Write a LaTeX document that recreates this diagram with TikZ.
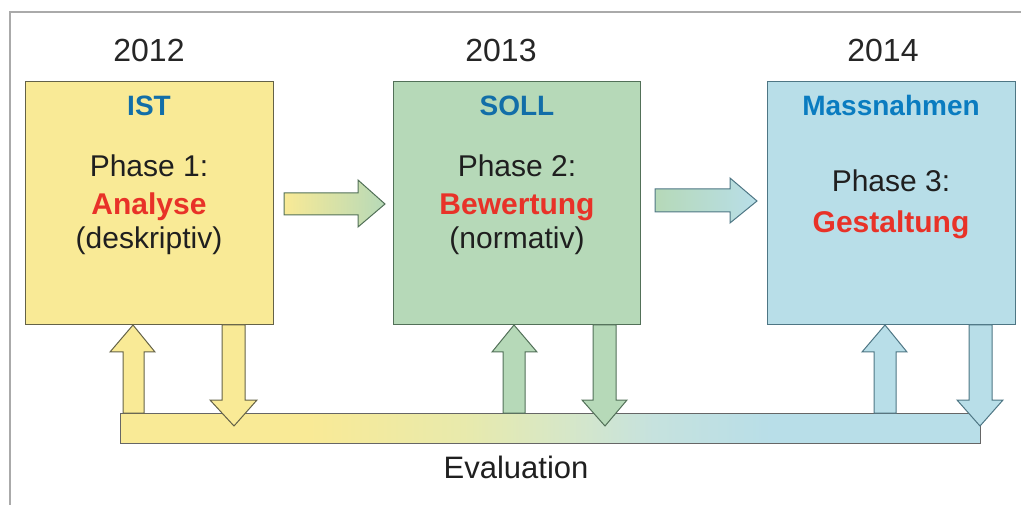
\documentclass[tikz,border=0pt]{standalone}
\usepackage{fontspec}
\setmainfont{Liberation Sans}
\definecolor{yel}{RGB}{249,234,150}
\definecolor{grn}{RGB}{182,217,184}
\definecolor{blu}{RGB}{184,222,232}
\definecolor{midA}{RGB}{232,234,172}
\definecolor{midB}{RGB}{214,231,200}
\definecolor{midC}{RGB}{198,226,222}
\definecolor{yelD}{RGB}{100,98,72}
\definecolor{grnD}{RGB}{82,112,88}
\definecolor{bluD}{RGB}{78,118,132}
\definecolor{hdblue}{RGB}{18,110,168}
\definecolor{hdblue2}{RGB}{10,124,192}
\definecolor{phred}{RGB}{232,50,40}
\definecolor{frame}{RGB}{170,170,170}
\pgfdeclarehorizontalshading{evalbar}{100bp}{color(0bp)=(yel); color(25bp)=(yel); color(36bp)=(yel); color(45bp)=(midA); color(51bp)=(midB); color(56bp)=(midC); color(63bp)=(blu); color(75bp)=(blu); color(100bp)=(blu)}
\begin{document}
\begin{tikzpicture}[x=1pt,y=-1pt,
  phasebox/.style={rectangle, minimum width=248pt, minimum height=243pt, line width=1pt, inner sep=0pt},
  yeartxt/.style={anchor=base, font=\fontsize{32}{32}\selectfont, text=black!85},
  headtxt/.style={anchor=base, font=\fontsize{28}{28}\selectfont\bfseries},
  phtxt/.style={anchor=base, font=\fontsize{30}{30}\selectfont, text=black!88},
  redtxt/.style={anchor=base, font=\fontsize{30}{30}\selectfont\bfseries, text=phred},
  fat/.style={line width=1pt, line join=miter}
]
\useasboundingbox (0,0) rectangle (1021,505);
% frame
\draw[frame, line width=1.5pt] (10,505) -- (10,12) -- (1021,12);

% boxes
\node[phasebox, fill=yel, draw=yelD] (b1) at (149,203.5) {};
\node[phasebox, minimum width=247pt, fill=grn, draw=grnD] (b2) at (516.5,203.5) {};
\node[phasebox, fill=blu, draw=bluD] (b3) at (891,203.5) {};

% years
\node[yeartxt] (y1) at (149,62) {2012};
\node[yeartxt] (y2) at (501,62) {2013};
\node[yeartxt] (y3) at (883,62) {2014};

% box texts
\node[headtxt, text=hdblue] (h1) at (149,116) {IST};
\node[phtxt] (p1) at (149,177) {Phase 1:};
\node[redtxt] (r1) at (149,215) {Analyse};
\node[phtxt] (d1) at (149,249) {(deskriptiv)};

\node[headtxt, text=hdblue] (h2) at (517,116) {SOLL};
\node[phtxt] (p2) at (517,177) {Phase 2:};
\node[redtxt] (r2) at (517,215) {Bewertung};
\node[phtxt] (d2) at (517,249) {(normativ)};

\node[headtxt, text=hdblue2] (h3) at (891,116) {Massnahmen};
\node[phtxt] (p3) at (891,192) {Phase 3:};
\node[redtxt] (r3) at (891,233) {Gestaltung};

% horizontal arrows
\shade[fat, draw=grnD, left color=yel, right color=grn]
  (284,193) -- (358,193) -- (358,180) -- (385,204) -- (358,227) -- (358,215) -- (284,215) -- cycle;
\shade[fat, draw=bluD, left color=grn, right color=blu]
  (655,189) -- (730,189) -- (730,178) -- (757,201) -- (730,223) -- (730,212) -- (655,212) -- cycle;

% evaluation bar
\shade[fat, draw=black!60, shading=evalbar]
  (120,413) rectangle (980,443);
\node[anchor=base, font=\fontsize{31}{31}\selectfont, text=black!88] (ev) at (516,478) {Evaluation};

% up arrows (bar -> box)
\filldraw[fat, fill=yel, draw=yelD]
  (123,413) -- (123,352) -- (110,352) -- (133,325) -- (155,352) -- (144,352) -- (144,413) -- cycle;
\filldraw[fat, fill=grn, draw=grnD]
  (503,413) -- (503,352) -- (492,352) -- (514,325) -- (537,352) -- (525,352) -- (525,413) -- cycle;
\filldraw[fat, fill=blu, draw=bluD]
  (874,413) -- (874,352) -- (862,352) -- (885,325) -- (907,352) -- (896,352) -- (896,413) -- cycle;

% down arrows (box -> bar)
\filldraw[fat, fill=yel, draw=yelD]
  (222,325) -- (222,400) -- (210,400) -- (234,426) -- (257,400) -- (245,400) -- (245,325) -- cycle;
\filldraw[fat, fill=grn, draw=grnD]
  (593,325) -- (593,400) -- (582,400) -- (605,426) -- (627,400) -- (616,400) -- (616,325) -- cycle;
\filldraw[fat, fill=blu, draw=bluD]
  (969,325) -- (969,400) -- (957,400) -- (980,426) -- (1003,400) -- (992,400) -- (992,325) -- cycle;
\end{tikzpicture}
\end{document}
